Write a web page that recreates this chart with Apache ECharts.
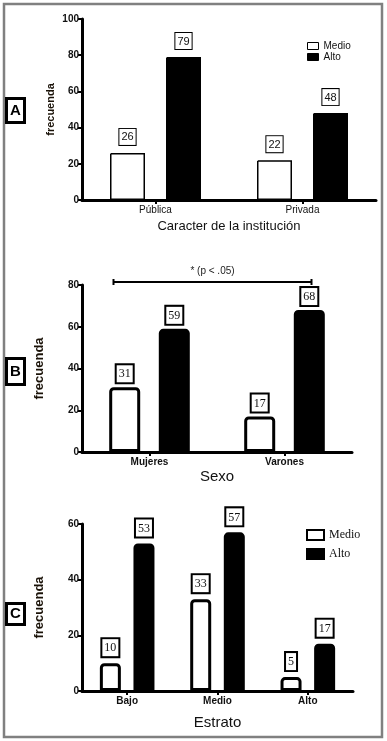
<!DOCTYPE html>
<html>
<head>
<meta charset="utf-8">
<script src="https://cdn.jsdelivr.net/npm/echarts@6/dist/echarts.min.js"></script>
<style>
  html, body { margin: 0; padding: 0; background: #fff; }
  #chart { width: 387px; height: 741px; }
</style>
</head>
<body>
<div id="chart"></div>
<script>
const groupsA = ['Pública', 'Privada']
const medioA = [26, 22]
const altoA = [79, 48]

const groupsB = ['Mujeres', 'Varones']
const medioB = [31, 17]
const altoB = [59, 68]

const groupsC = ['Bajo', 'Medio', 'Alto']
const medioC = [10, 33, 5]
const altoC = [53, 57, 17]

const yMaxA = 100
const yMaxB = 80
const yMaxC = 60
const yStep = 20

const bracketFrom = 'Mujeres'
const bracketTo = 'Varones'
const bracketText = '* (p < .05)'

const SANS = "'Liberation Sans', Arial, sans-serif"
const SERIF = "'Liberation Serif', 'Times New Roman', serif"

function yAxis(gridIndex, max, nameSize, nameGap) {
  return {
    type: 'value',
    gridIndex,
    min: 0,
    max,
    interval: yStep,
    name: 'frecuenda',
    nameLocation: 'middle',
    nameGap,
    nameMoveOverlap: false,
    nameTextStyle: { fontFamily: SANS, fontSize: nameSize, fontWeight: 'bold', color: '#1a1208' },
    axisLine: { show: true, lineStyle: { color: '#000', width: 3 } },
    axisTick: { show: true, length: 4, lineStyle: { color: '#000', width: 2 } },
    axisLabel: { color: '#111', fontFamily: SANS, fontSize: 10, fontWeight: 'bold', margin: 3 },
    splitLine: { show: false },
  }
}

function xAxis(gridIndex, data, name, nameSize, nameGap, labelBold) {
  return {
    type: 'category',
    gridIndex,
    data,
    name,
    nameLocation: 'middle',
    nameGap,
    nameTextStyle: { fontFamily: SANS, fontSize: nameSize, color: '#111' },
    axisLine: { show: true, lineStyle: { color: '#000', width: 3 } },
    axisTick: { show: true, alignWithLabel: true, length: 4, lineStyle: { color: '#000', width: 2 } },
    axisLabel: { color: '#111', fontFamily: SANS, fontSize: 10, fontWeight: labelBold ? 'bold' : 'normal', margin: 5 },
    splitLine: { show: false },
  }
}

function barLabel(font, size, border, distance) {
  return {
    show: true,
    position: 'top',
    distance,
    color: '#111',
    fontFamily: font,
    fontSize: size,
    lineHeight: size + 2,
    backgroundColor: '#fff',
    borderColor: '#000',
    borderWidth: border,
    padding: [2, 2, 1, 2],
  }
}

function bars(name, idx, data, filled, width, border, radius, label) {
  return {
    name,
    type: 'bar',
    xAxisIndex: idx,
    yAxisIndex: idx,
    data,
    barWidth: width,
    barGap: '60%',
    itemStyle: {
      color: filled ? '#000' : '#fff',
      borderColor: '#000',
      borderWidth: border,
      borderRadius: [radius, radius, 0, 0],
    },
    label,
    emphasis: { disabled: true },
  }
}

function panelTag(letter, y, h) {
  return {
    type: 'group',
    children: [
      { type: 'rect', shape: { x: 6.5, y, width: 18, height: h }, style: { fill: '#fff', stroke: '#000', lineWidth: 3 } },
      { type: 'text', x: 15.5, y: y + h / 2, style: { text: letter, font: "bold 15px 'Liberation Sans', Arial", fill: '#000', align: 'center', verticalAlign: 'middle' } },
    ],
  }
}

const chart = echarts.init(document.getElementById('chart'))
chart.setOption({
  animation: false,
  grid: [
    { left: 82, top: 19, width: 294, height: 181, outerBoundsMode: 'none', containLabel: false },
    { left: 82, top: 285, width: 270, height: 167, outerBoundsMode: 'none', containLabel: false },
    { left: 82, top: 524, width: 271, height: 167, outerBoundsMode: 'none', containLabel: false },
  ],
  xAxis: [
    xAxis(0, groupsA, 'Caracter de la institución', 13, 20, false),
    xAxis(1, groupsB, 'Sexo', 15, 17, true),
    xAxis(2, groupsC, 'Estrato', 15, 24, true),
  ],
  yAxis: [
    yAxis(0, yMaxA, 11, 26),
    yAxis(1, yMaxB, 13, 36),
    yAxis(2, yMaxC, 13, 36),
  ],
  legend: [
    {
      data: ['Medio', 'Alto'],
      orient: 'vertical',
      left: 302,
      top: 36,
      icon: 'rect',
      itemWidth: 11,
      itemHeight: 7,
      itemGap: 1,
      selectedMode: false,
      itemStyle: { borderColor: '#000', borderWidth: 1 },
      textStyle: { fontFamily: SANS, fontSize: 10, lineHeight: 10, color: '#111' },
    },
    {
      data: ['Medio', 'Alto'],
      orient: 'vertical',
      left: 301,
      top: 524,
      icon: 'rect',
      itemWidth: 17,
      itemHeight: 10,
      itemGap: 7,
      selectedMode: false,
      itemStyle: { borderColor: '#000', borderWidth: 2 },
      textStyle: { fontFamily: SERIF, fontSize: 12, color: '#111' },
    },
  ],
  series: [
    bars('Medio', 0, medioA, false, 35, 1.5, 0, barLabel(SANS, 11, 1, 8)),
    bars('Alto', 0, altoA, true, 35, 1.5, 0, barLabel(SANS, 11, 1, 8)),
    bars('Medio', 1, medioB, false, 31, 3, 3, barLabel(SERIF, 12, 2, 5)),
    bars('Alto', 1, altoB, true, 31, 3, 3, barLabel(SERIF, 12, 2, 5)),
    bars('Medio', 2, medioC, false, 21, 3, 3, barLabel(SERIF, 12, 2, 7)),
    bars('Alto', 2, altoC, true, 21, 3, 3, barLabel(SERIF, 12, 2, 7)),
  ],
})

// frame, panel letters and the significance bracket over panel B
const x0 = chart.convertToPixel({ xAxisIndex: 1 }, bracketFrom) - 36
const x1 = chart.convertToPixel({ xAxisIndex: 1 }, bracketTo) + 27
const yb = chart.convertToPixel({ yAxisIndex: 1 }, yMaxB) - 3

chart.setOption({
  graphic: [
    { type: 'rect', shape: { x: 4, y: 4, width: 378, height: 733 }, style: { fill: 'none', stroke: '#808080', lineWidth: 2.5 }, z: -1 },
    panelTag('A', 98.5, 24),
    panelTag('B', 358.5, 26),
    panelTag('C', 603.5, 21),
    {
      type: 'group',
      children: [
        { type: 'line', shape: { x1: x0, y1: yb, x2: x1, y2: yb }, style: { stroke: '#000', lineWidth: 2 } },
        { type: 'line', shape: { x1: x0, y1: yb - 3, x2: x0, y2: yb + 3 }, style: { stroke: '#000', lineWidth: 2 } },
        { type: 'line', shape: { x1: x1, y1: yb - 3, x2: x1, y2: yb + 3 }, style: { stroke: '#000', lineWidth: 2 } },
        { type: 'text', x: (x0 + x1) / 2, y: yb - 11, style: { text: bracketText, font: "10px 'Liberation Sans', Arial", fill: '#222', align: 'center', verticalAlign: 'middle' } },
      ],
    },
  ],
})
</script>
</body>
</html>
